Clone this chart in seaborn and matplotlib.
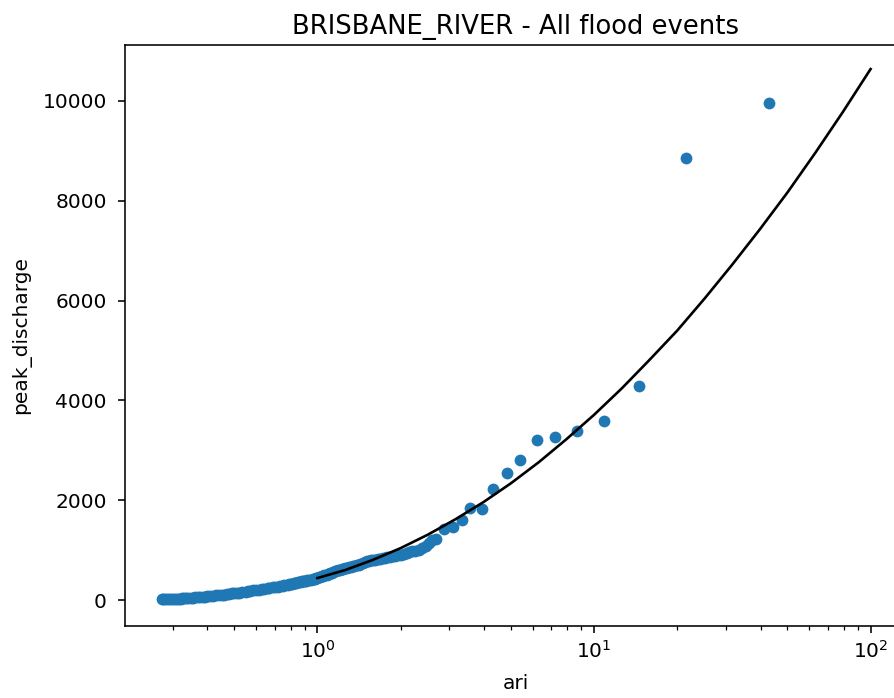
import matplotlib
matplotlib.use("Agg")
import matplotlib.pyplot as plt
import seaborn as sns
import pandas as pd

# --- data ---
# largest individual events
event_ari = [42.9, 21.5, 14.5, 10.85, 8.7, 7.22, 6.2, 5.4, 4.83, 4.3,
             3.92, 3.57, 3.32, 3.08, 2.87]
event_discharge = [9960, 8860, 4280, 3590, 3390, 3270, 3210, 2810, 2550, 2220,
                   1820, 1840, 1600, 1470, 1420]

# dense band of smaller events
band_ari = [2.69, 2.60, 2.53, 2.46, 2.39, 2.32, 2.26, 2.20, 2.15, 2.10,
            2.05, 2.00, 1.95, 1.91, 1.87, 1.83, 1.79, 1.75, 1.72, 1.68,
            1.65, 1.62, 1.59, 1.56, 1.54, 1.51, 1.48, 1.46, 1.43, 1.41,
            1.39, 1.36, 1.34, 1.32, 1.30, 1.28, 1.26, 1.24, 1.23, 1.21,
            1.19, 1.17, 1.16, 1.14, 1.13, 1.11, 1.10, 1.09, 1.08, 1.06,
            1.05, 1.04, 1.02, 1.01, 1.00, 0.99, 0.98, 0.97, 0.96, 0.95,
            0.93, 0.92, 0.91, 0.90, 0.89, 0.88, 0.87, 0.86, 0.85, 0.84,
            0.83, 0.82, 0.81, 0.80, 0.79, 0.78, 0.76, 0.75, 0.73, 0.72,
            0.70, 0.69, 0.67, 0.66, 0.64, 0.63, 0.615, 0.60, 0.585, 0.57,
            0.56, 0.55, 0.535, 0.52, 0.51, 0.50, 0.49, 0.48, 0.47, 0.46,
            0.45, 0.44, 0.43, 0.42, 0.41, 0.40, 0.392, 0.385, 0.377, 0.37,
            0.362, 0.355, 0.348, 0.34, 0.335, 0.33, 0.325, 0.32, 0.315, 0.31,
            0.305, 0.30, 0.295, 0.29, 0.285, 0.28, 0.277, 0.274]
band_discharge = [1230, 1200, 1150, 1090, 1050, 1010, 980, 975, 960, 935,
                  920, 905, 900, 890, 880, 865, 860, 850, 840, 830,
                  820, 805, 800, 795, 790, 775, 760, 740, 720, 710,
                  700, 690, 680, 670, 660, 650, 640, 630, 620, 610,
                  600, 590, 580, 565, 550, 540, 530, 520, 510, 500,
                  490, 480, 470, 460, 450, 440, 430, 425, 420, 410,
                  400, 395, 390, 385, 380, 372, 365, 360, 355, 350,
                  345, 335, 328, 320, 315, 310, 298, 290, 280, 270,
                  262, 255, 245, 235, 225, 215, 208, 200, 192, 185,
                  178, 170, 160, 150, 145, 140, 132, 125, 118, 110,
                  105, 100, 92, 85, 80, 75, 70, 65, 60, 55,
                  52, 48, 44, 40, 37, 35, 32, 30, 27, 25,
                  23, 22, 20, 18, 16, 15, 13, 12]

# fitted curve (black line)
fit_ari = [1.0, 1.26, 1.58, 2.0, 2.51, 3.16, 3.98, 5.01, 6.31, 7.94,
           10.0, 12.6, 15.8, 20.0, 25.1, 31.6, 39.8, 50.1, 63.1, 79.4, 100.0]
fit_discharge = [440, 600, 800, 1040, 1310, 1620, 1960, 2340, 2760, 3220,
                 3710, 4240, 4800, 5400, 6040, 6720, 7430, 8170, 8960, 9780,
                 10640]

title = "BRISBANE_RIVER - All flood events"
x_label = "ari"
y_label = "peak_discharge"

# --- plotting ---
plt.rcParams.update({
    "font.family": ["DejaVu Sans"],
    "axes.linewidth": 1.15,
    "xtick.major.size": 5.0, "ytick.major.size": 5.0,
    "xtick.minor.size": 2.9, "ytick.minor.size": 2.9,
    "xtick.major.width": 1.15, "ytick.major.width": 1.15,
    "xtick.minor.width": 0.9,
    "xtick.major.pad": 5, "ytick.major.pad": 8,
})

points = pd.DataFrame({
    "ari": event_ari + band_ari,
    "peak_discharge": event_discharge + band_discharge,
})
fit = pd.DataFrame({"ari": fit_ari, "peak_discharge": fit_discharge})

fig = plt.figure(figsize=(8.94, 6.98), dpi=100)
ax = fig.add_axes([125 / 894, 1 - 626 / 698, (906 - 125) / 894, (626 - 45) / 698])

sns.scatterplot(data=points, x="ari", y="peak_discharge", ax=ax,
                color="#1f77b4", s=72, linewidth=0, alpha=1.0)
sns.lineplot(data=fit, x="ari", y="peak_discharge", ax=ax,
             color="black", linewidth=1.9, estimator=None, sort=True)

ax.set_xscale("log")
ax.set_xlim(0.2015, 134.3)
ax.set_ylim(-521, 11122)
ax.set_yticks([0, 2000, 4000, 6000, 8000, 10000])

ax.tick_params(axis="both", which="major", labelsize=14.5)
ax.set_xlabel(x_label, fontsize=14.5, labelpad=9)
ax.set_ylabel(y_label, fontsize=14.5, labelpad=8)
ax.set_title(title, fontsize=18.6, pad=8)

fig.savefig("out.png", dpi=100)
